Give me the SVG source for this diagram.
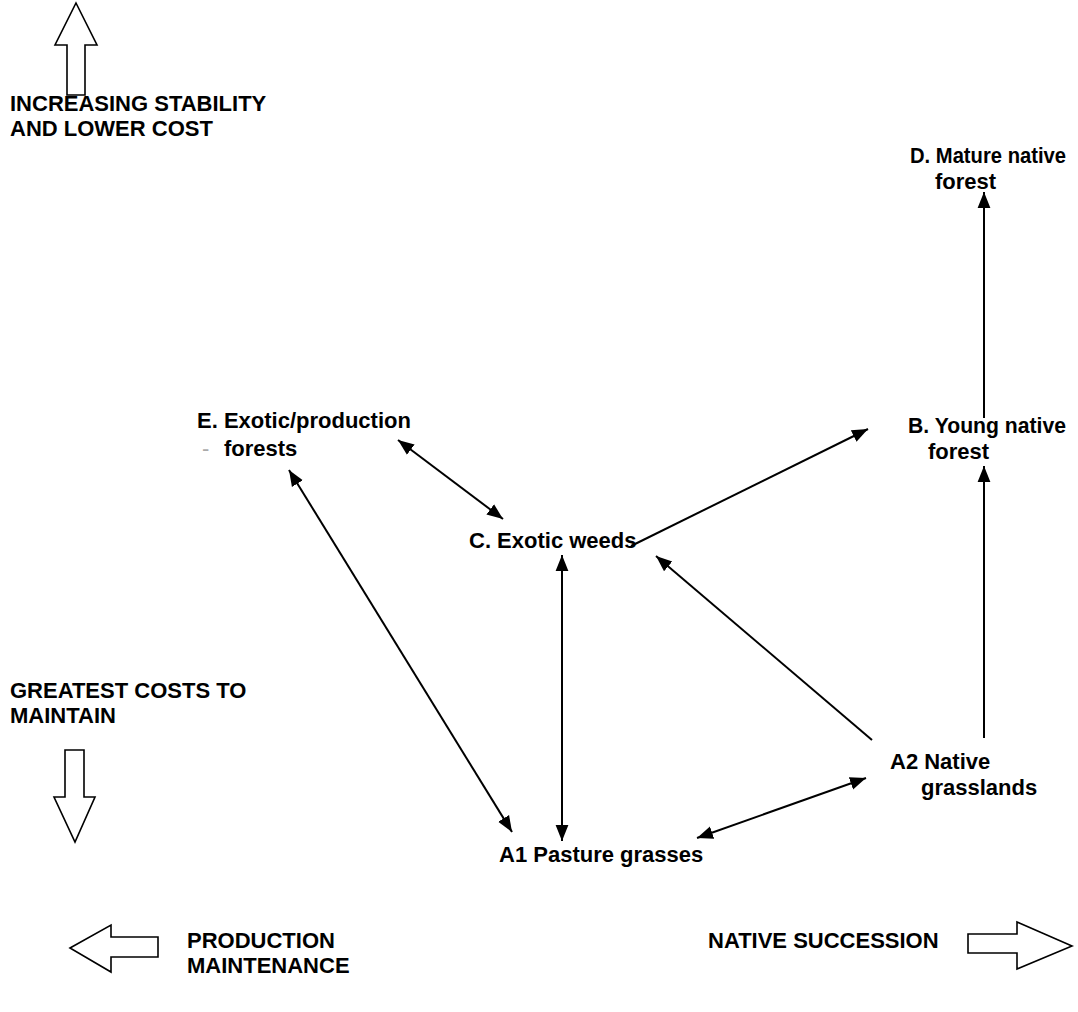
<svg xmlns="http://www.w3.org/2000/svg" width="1078" height="1012" viewBox="0 0 1078 1012">
<defs>
<marker id="ah" viewBox="0 0 10 10" refX="10" refY="5" markerWidth="16" markerHeight="16" markerUnits="userSpaceOnUse" orient="auto-start-reverse">
<path d="M0,1 L10,5 L0,9 Z" fill="#000"/>
</marker>
<style>
text{font-family:"Liberation Sans",Arial,sans-serif;font-weight:bold;font-size:22px;fill:#000}
.blk{fill:#fff;stroke:#000;stroke-width:1.6;stroke-linejoin:miter}
.con{stroke:#000;stroke-width:2;fill:none}
</style>
</defs>
<rect width="1078" height="1012" fill="#fff"/>
<g id="legend-up">
<polygon class="blk" points="76,3 97,45 85,45 85,95 67,95 67,45 55,45"/>
<text x="10" y="111">INCREASING STABILITY</text>
<text x="10" y="136">AND LOWER COST</text>
</g>
<g id="legend-down">
<text x="10" y="698">GREATEST COSTS TO</text>
<text x="10" y="723">MAINTAIN</text>
<polygon class="blk" points="65,750 84,750 84,797 95,797 75,842 54,797 65,797"/>
</g>
<g id="legend-left">
<polygon class="blk" points="70,948 111,925 111,937 158,937 158,957 111,957 111,972"/>
<text x="187" y="948">PRODUCTION</text>
<text x="187" y="973">MAINTENANCE</text>
</g>
<g id="legend-right">
<text x="708" y="948">NATIVE SUCCESSION</text>
<polygon class="blk" points="968,934 1017,934 1017,922 1072,946 1017,969 1017,953 968,953"/>
</g>
<g id="node-D">
<text x="910" y="163" textLength="156" lengthAdjust="spacingAndGlyphs">D. Mature native</text>
<text x="935" y="189">forest</text>
</g>
<g id="node-B">
<text x="908" y="433" textLength="158" lengthAdjust="spacingAndGlyphs">B. Young native</text>
<text x="928" y="459">forest</text>
</g>
<g id="node-E">
<text x="197" y="428">E. Exotic/production</text>
<text x="202" y="456" style="fill:#aaa;font-weight:normal">-</text>
<text x="224" y="456">forests</text>
</g>
<g id="node-C">
<text x="469" y="548">C. Exotic weeds</text>
</g>
<g id="node-A2">
<text x="890" y="769">A2 Native</text>
<text x="921" y="795">grasslands</text>
</g>
<g id="node-A1">
<text x="499" y="862">A1 Pasture grasses</text>
</g>
<g id="connectors">
<line class="con" x1="984" y1="418" x2="984" y2="192" marker-end="url(#ah)"/>
<line class="con" x1="984" y1="738" x2="984" y2="466" marker-end="url(#ah)"/>
<line class="con" x1="398" y1="440" x2="503" y2="519" marker-start="url(#ah)" marker-end="url(#ah)"/>
<line class="con" x1="289" y1="470" x2="512" y2="832" marker-start="url(#ah)" marker-end="url(#ah)"/>
<line class="con" x1="562" y1="555" x2="562" y2="841" marker-start="url(#ah)" marker-end="url(#ah)"/>
<line class="con" x1="631" y1="546" x2="868" y2="429" marker-end="url(#ah)"/>
<line class="con" x1="872" y1="740" x2="656" y2="556" marker-end="url(#ah)"/>
<line class="con" x1="697" y1="838" x2="866" y2="778" marker-start="url(#ah)" marker-end="url(#ah)"/>
</g>
</svg>
